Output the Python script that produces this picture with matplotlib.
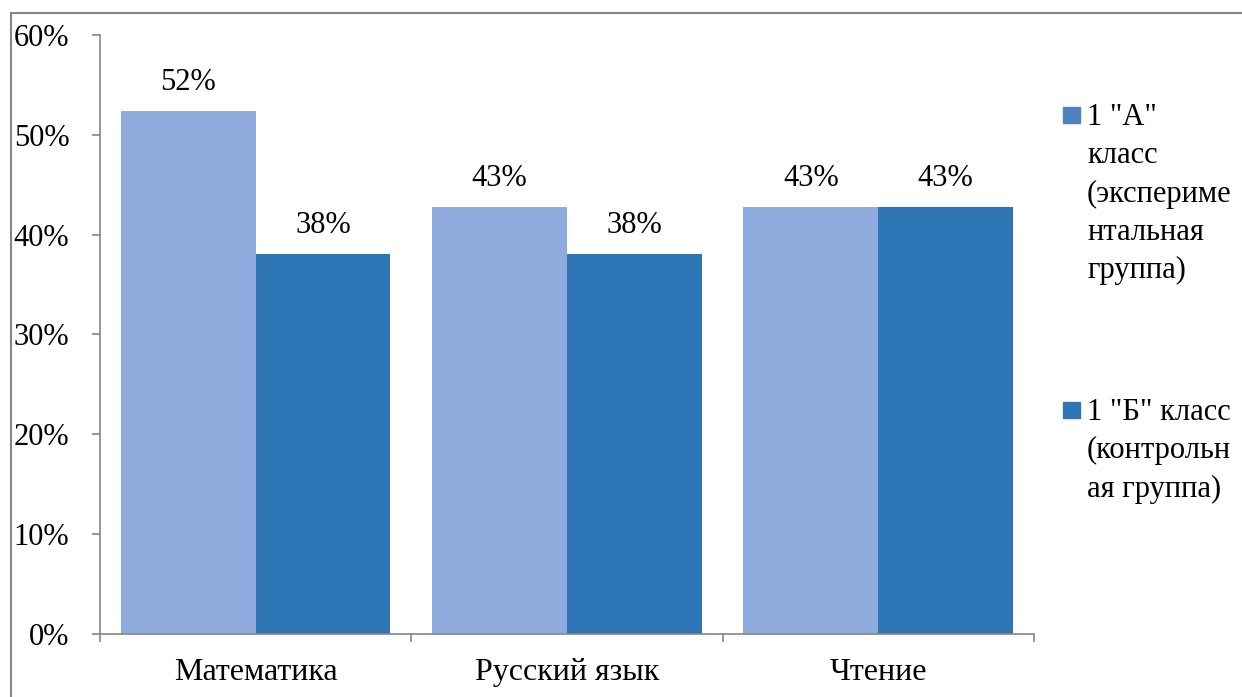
import matplotlib.pyplot as plt
from matplotlib.lines import Line2D
from matplotlib.patches import Rectangle
from matplotlib.ticker import PercentFormatter, FixedLocator
import numpy as np

FONT = 'Liberation Serif'
plt.rcParams['font.family'] = FONT

categories = ['Математика', 'Русский язык', 'Чтение']
group_a = [0.524, 0.428, 0.428]
group_b = [0.381, 0.381, 0.428]
label_a = '1 "А"\nкласс\n(экспериме\nнтальная\nгруппа)'
label_b = '1 "Б" класс\n(контрольн\nая группа)'

color_a = '#8FAADC'
color_b = '#2E75B6'
axis_gray = '#868686'

fig = plt.figure(figsize=(12.42, 6.97), dpi=100)
ax = fig.add_axes([0.0805, 0.0904, 0.752, 0.8594])

x = np.arange(len(categories))
w = 0.433
bars_a = ax.bar(x - w / 2, group_a, w, color=color_a)
bars_b = ax.bar(x + w / 2, group_b, w, color=color_b)

for bars, vals in ((bars_a, group_a), (bars_b, group_b)):
    for b, v in zip(bars, vals):
        ax.annotate(f'{v:.0%}', (b.get_x() + b.get_width() / 2, v),
                    xytext=(0, 10), textcoords='offset points',
                    ha='center', va='bottom', fontsize=22, family=FONT)

ax.set_xlim(-0.5, 2.5)
ax.set_ylim(0, 0.6)
ax.set_yticks(np.arange(0, 0.61, 0.1))
ax.yaxis.set_major_formatter(PercentFormatter(1.0, decimals=0))
ax.set_xticks(x)
ax.set_xticklabels(categories, family=FONT, fontsize=23)
ax.xaxis.set_minor_locator(FixedLocator([-0.5, 0.5, 1.5, 2.5]))

ax.tick_params(axis='y', direction='out', length=6, width=1.2, color=axis_gray,
               labelsize=22, pad=16)
ax.tick_params(axis='x', which='major', length=0, pad=17)
ax.tick_params(axis='x', which='minor', direction='out', length=6, width=1.2,
               color=axis_gray)
for lbl in ax.get_yticklabels():
    lbl.set_family(FONT)

for side in ('top', 'right'):
    ax.spines[side].set_visible(False)
for side in ('left', 'bottom'):
    ax.spines[side].set_color(axis_gray)
    ax.spines[side].set_linewidth(1.2)

# legend drawn by hand so the marker sits on the first text line
def px(xp, yp):
    return xp / 1242, 1 - yp / 697

for col, top, text in (('#4F81BD', 107, label_a), (color_b, 402, label_b)):
    x0, y0 = px(1063, top + 16)
    fig.add_artist(Rectangle((x0, y0), 17 / 1242, 16 / 697,
                             transform=fig.transFigure, color=col))
    tx, ty = px(1087, top - 4)
    fig.text(tx, ty, text, ha='left', va='top', fontsize=22,
             linespacing=1.42, family=FONT)

# outer frame lines
fx, fy = px(11, 13)
fig.add_artist(Line2D([fx, fx], [0, fy], transform=fig.transFigure,
                      color=axis_gray, lw=1.5))
fig.add_artist(Line2D([fx, 1], [fy, fy], transform=fig.transFigure,
                      color=axis_gray, lw=1.5))

fig.savefig('out.png', dpi=100)
